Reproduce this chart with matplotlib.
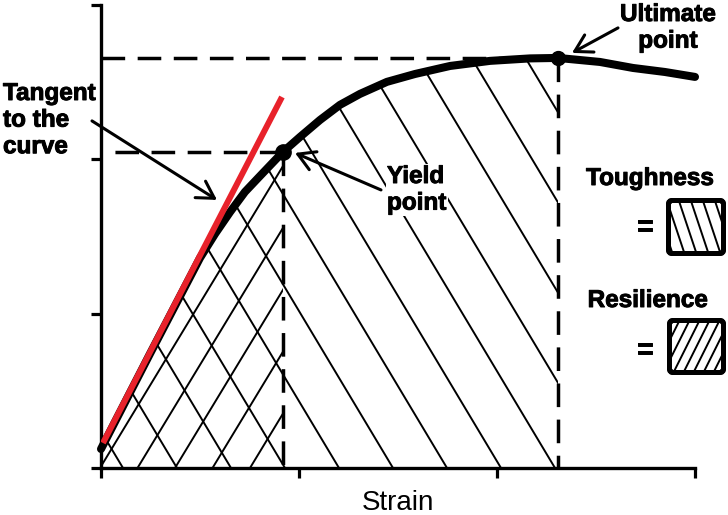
import matplotlib
matplotlib.use("Agg")
import matplotlib.pyplot as plt
import matplotlib.patheffects as pe
from matplotlib.patches import Polygon, FancyBboxPatch
from matplotlib.lines import Line2D
from matplotlib.transforms import IdentityTransform

plt.rcParams['font.family'] = ['Liberation Sans', 'DejaVu Sans']
plt.rcParams['lines.scale_dashes'] = False

# ---------------- data ----------------
strain = [0.000, 0.247, 0.500, 0.576, 0.652, 0.727, 0.803, 0.919, 1.005, 1.106,
          1.207, 1.308, 1.444, 1.586, 1.763, 1.965, 2.167, 2.308, 2.520, 2.687,
          2.848, 3.000]
stress = [0.123, 0.739, 1.361, 1.517, 1.659, 1.789, 1.892, 2.048, 2.145, 2.255,
          2.353, 2.424, 2.502, 2.553, 2.605, 2.638, 2.654, 2.657, 2.631, 2.592,
          2.566, 2.534]
yield_idx = 7
ult_idx = 17
tangent_x = [0.01, 0.914]
tangent_y = [0.162, 2.404]
xticks = [0, 1, 2, 3]
yticks = [0, 1, 2, 3]
xticklabels = ["", "", "", ""]
yticklabels = ["", "", "", ""]
x_label = "Strain"
label_tangent = "Tangent\nto the\ncurve"
label_yield = "Yield\npoint"
label_ult = "Ultimate\npoint"
label_tough = "Toughness"
label_resil = "Resilience"

W, H = 728, 515
fig = plt.figure(figsize=(W / 100, H / 100), dpi=100)
ax = fig.add_axes([101 / W, 1 - 468 / H, 594 / W, 463 / H])
ax.set_xlim(0, 3)
ax.set_ylim(0, 3)
ax.set_xticks(xticks)
ax.set_xticklabels(xticklabels)
ax.set_yticks(yticks)
ax.set_yticklabels(yticklabels)
ax.tick_params(direction='out', length=7, width=2.3, color='black')
for s in ['top', 'right']:
    ax.spines[s].set_visible(False)
for s in ['left', 'bottom']:
    ax.spines[s].set_linewidth(2.4)

ax.set_xlabel(x_label, fontsize=20)
ax.xaxis.set_label_coords(0.5, (468 - 510) / 463)
ax.xaxis.label.set_va('baseline')

yx, yy = strain[yield_idx], stress[yield_idx]
ux, uy = strain[ult_idx], stress[ult_idx]


def fx(px):
    return px / W


def fy(py):
    return 1 - py / H


# ---------------- hatch helper (display pixel space) ----------------
def add_hatch(container_add, patch, slope, spacing, xb0, yb, sign, lw, zorder):
    path = patch.get_path().transformed(patch.get_transform())
    ext = path.get_extents()
    y0, y1 = ext.y0 - 4, ext.y1 + 4
    dx_full = (y1 - y0) / slope
    kmin = int((ext.x0 - dx_full - 20 - xb0) // spacing) - 1
    kmax = int((ext.x1 + dx_full + 20 - xb0) // spacing) + 1
    for k in range(kmin, kmax + 1):
        xb = xb0 + k * spacing
        xa = xb + sign * (y0 - yb) / slope
        xc = xb + sign * (y1 - yb) / slope
        ln = Line2D([xa, xc], [y0, y1], transform=IdentityTransform(),
                    color='black', lw=lw, zorder=zorder)
        ln.set_clip_path(patch)
        container_add(ln)


# Toughness region (under curve up to ultimate point)
tough_pts = [(strain[i], stress[i]) for i in range(ult_idx + 1)] + [(ux, 0), (0, 0)]
tough_poly = Polygon(tough_pts, closed=True, facecolor='none', edgecolor='none',
                     transform=ax.transData)
ax.add_patch(tough_poly)
# Resilience region (under curve up to yield point)
res_pts = [(strain[i], stress[i]) for i in range(yield_idx + 1)] + [(yx, 0), (0, 0)]
res_poly = Polygon(res_pts, closed=True, facecolor='none', edgecolor='none',
                   transform=ax.transData)
ax.add_patch(res_poly)

yb_disp = ax.transData.transform((0, 0))[1]
add_hatch(ax.add_line, tough_poly, 1.67, 54, 177, yb_disp, -1, 1.4, 1)
add_hatch(ax.add_line, res_poly, 1.65, 37.5, 137.5, yb_disp, +1, 1.4, 1)

# ---------------- dashed guide lines ----------------
dash = dict(color='black', lw=2.5, dashes=(17, 9), zorder=2)
ax.plot([ux, 0], [uy, uy], **dash)
ax.plot([yx, 0], [yy, yy], **dash)
ax.plot([yx, yx], [yy, 0], **dash)
ax.plot([ux, ux], [uy, 0], **dash)

# ---------------- curve, tangent, points ----------------
ax.plot(strain, stress, color='black', lw=5.8, solid_capstyle='round',
        solid_joinstyle='round', zorder=3, clip_on=False)
ax.plot(tangent_x, tangent_y, color='#e8222b', lw=4.3, solid_capstyle='butt', zorder=4)
ax.plot([yx], [yy], 'o', color='black', ms=11, zorder=5)
ax.plot([ux], [uy], 'o', color='black', ms=10, zorder=5, clip_on=False)

# ---------------- arrows ----------------
arrow = dict(arrowstyle='->,head_length=0.6,head_width=0.35', lw=2.2,
             color='black', shrinkA=0, shrinkB=0, mutation_scale=20)
ax.annotate('', xy=((217 - 101) / 198, (468 - 200) / 154.3),
            xytext=((92 - 101) / 198, (468 - 121) / 154.3),
            arrowprops=arrow, annotation_clip=False)
ax.annotate('', xy=((295 - 101) / 198, (468 - 153) / 154.3),
            xytext=((381 - 101) / 198, (468 - 190) / 154.3),
            arrowprops=arrow, annotation_clip=False)
ax.annotate('', xy=((572 - 101) / 198, (468 - 53) / 154.3),
            xytext=((618 - 101) / 198, (468 - 28) / 154.3),
            arrowprops=arrow, annotation_clip=False)

# ---------------- texts ----------------
heavy = [pe.withStroke(linewidth=0.7, foreground='black')]
bold = dict(fontsize=17.5, fontweight='bold', color='black', path_effects=heavy)
fig.text(fx(3), fy(82), label_tangent, ha='left', va='top', multialignment='left', **bold)
fig.text(fx(387), fy(165), label_yield, ha='left', va='top', multialignment='left',
         bbox=dict(facecolor='white', edgecolor='none', pad=1), zorder=6, **bold)
fig.text(fx(668), fy(3), label_ult, ha='center', va='top', multialignment='center', **bold)
fig.text(fx(650), fy(185), label_tough, ha='center', va='baseline', **bold)
fig.text(fx(648), fy(307), label_resil, ha='center', va='baseline', **bold)
eq = dict(bold, fontsize=21)
fig.text(fx(645), fy(235), "=", ha='center', va='baseline', **eq)
fig.text(fx(645), fy(358), "=", ha='center', va='baseline', **eq)


# ---------------- legend boxes ----------------
def legend_box(left, top, right, bottom, slope, spacing, sign):
    x0, x1 = left, right
    y0, y1 = H - bottom, H - top
    box = FancyBboxPatch((x0, y0), x1 - x0, y1 - y0,
                         boxstyle='round,pad=0,rounding_size=4',
                         transform=IdentityTransform(), facecolor='white',
                         edgecolor='black', lw=3.6, zorder=2)
    fig.add_artist(box)
    clip = FancyBboxPatch((x0, y0), x1 - x0, y1 - y0,
                          boxstyle='round,pad=0,rounding_size=4',
                          transform=IdentityTransform(), facecolor='none',
                          edgecolor='none')
    add_hatch(fig.add_artist, clip, slope, spacing, x0 + 4, y0, sign, 1.4, 3)
    edge = FancyBboxPatch((x0, y0), x1 - x0, y1 - y0,
                          boxstyle='round,pad=0,rounding_size=4',
                          transform=IdentityTransform(), facecolor='none',
                          edgecolor='black', lw=3.6, zorder=4)
    fig.add_artist(edge)


legend_box(668.5, 200.5, 723.5, 253.5, 3.0, 12, -1)
legend_box(669.5, 320.5, 723.5, 372.5, 2.0, 10, +1)

fig.savefig("out.png", dpi=100)
